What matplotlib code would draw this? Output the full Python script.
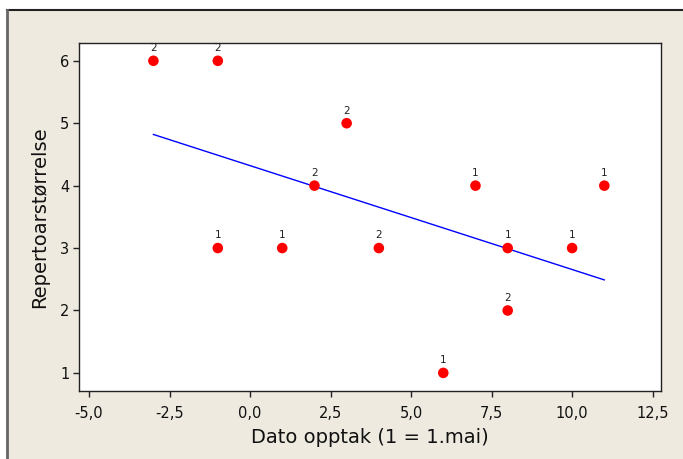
import matplotlib.pyplot as plt
from matplotlib.patches import Rectangle
from matplotlib.ticker import FuncFormatter

# Observations: recording date vs repertoire size, with count label per point
dato = [-3, -1, 3, 2, 7, 11, -1, 1, 4, 8, 10, 8, 6]
repertoar = [6, 6, 5, 4, 4, 4, 3, 3, 3, 3, 3, 2, 1]
antall = ["2", "2", "2", "2", "1", "1", "1", "1", "2", "1", "1", "2", "1"]

# Fitted line end points
fit_x = [-3, 11]
fit_y = [4.82, 2.49]

x_ticks = [-5.0, -2.5, 0.0, 2.5, 5.0, 7.5, 10.0, 12.5]
y_ticks = [1, 2, 3, 4, 5, 6]

bg = "#EEEAE0"

fig = plt.figure(figsize=(6.83, 4.59), dpi=100, facecolor="white")

# beige panel with dark frame on top and left
panel = Rectangle((7 / 683, 0), 1.0, 1 - 10 / 459, transform=fig.transFigure,
                  facecolor=bg, edgecolor="none", zorder=-10)
fig.patches.append(panel)
fig.add_artist(plt.Line2D([7 / 683, 1.0], [1 - 10 / 459, 1 - 10 / 459],
                          transform=fig.transFigure, color="#222222", lw=1.5, zorder=-5))
fig.add_artist(plt.Line2D([7 / 683, 7 / 683], [0, 1 - 10 / 459],
                          transform=fig.transFigure, color="#666666", lw=2.0, zorder=-5))

ax = fig.add_axes([79 / 683, 1 - 391 / 459, (661 - 79) / 683, (391 - 42.7) / 459])
ax.set_zorder(1)
ax.set_facecolor("white")

ax.plot(fit_x, fit_y, color="#0000FF", lw=1.0, zorder=2)
ax.scatter(dato, repertoar, s=58, color="#FF0000", edgecolors="none", zorder=3)
for xv, yv, lab in zip(dato, repertoar, antall):
    ax.annotate(lab, (xv, yv), xytext=(0, 5.5), textcoords="offset points",
                ha="center", va="bottom", fontsize=7.5, color="#222222")

ax.set_xlim(-5.31, 12.76)
ax.set_ylim(0.71, 6.29)
ax.set_xticks(x_ticks)
ax.set_yticks(y_ticks)
ax.xaxis.set_major_formatter(FuncFormatter(lambda v, p: f"{v:.1f}".replace(".", ",")))

for s in ax.spines.values():
    s.set_color("#222222")
    s.set_linewidth(1.0)
ax.tick_params(direction="out", length=4, width=1, colors="#222222",
               labelsize=10.5, labelcolor="#111111")
ax.tick_params(axis="x", pad=7)
ax.tick_params(axis="y", pad=3)

ax.set_xlabel("Dato opptak (1 = 1.mai)", fontsize=14, color="#111111", labelpad=5)
ax.set_ylabel("Repertoarstørrelse", fontsize=14, color="#111111", labelpad=8)

fig.savefig("out.png", dpi=100, facecolor=fig.get_facecolor())
